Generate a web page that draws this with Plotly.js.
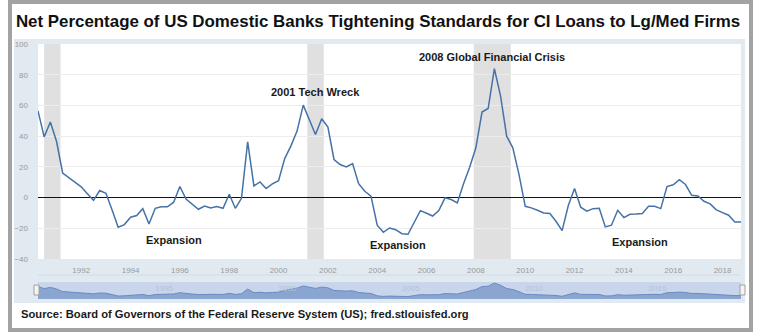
<!DOCTYPE html>
<html>
<head>
<meta charset="utf-8">
<script src="https://cdn.plot.ly/plotly-3.0.1.min.js"></script>
<style>html,body{margin:0;padding:0;background:#fff;}#chart{width:759px;height:332px;}</style>
</head>
<body>
<div id="chart"></div>
<script>
// ---- data (quarterly survey dates) ----
const dates = [
 '1990-04-01','1990-07-01','1990-10-01',
 '1991-01-01','1991-04-01','1991-07-01','1991-10-01',
 '1992-01-01','1992-04-01','1992-07-01','1992-10-01',
 '1993-01-01','1993-04-01','1993-07-01','1993-10-01',
 '1994-01-01','1994-04-01','1994-07-01','1994-10-01',
 '1995-01-01','1995-04-01','1995-07-01','1995-10-01',
 '1996-01-01','1996-04-01','1996-07-01','1996-10-01',
 '1997-01-01','1997-04-01','1997-07-01','1997-10-01',
 '1998-01-01','1998-04-01','1998-07-01','1998-10-01',
 '1999-01-01','1999-04-01','1999-07-01','1999-10-01',
 '2000-01-01','2000-04-01','2000-07-01','2000-10-01',
 '2001-01-01','2001-04-01','2001-07-01','2001-10-01',
 '2002-01-01','2002-04-01','2002-07-01','2002-10-01',
 '2003-01-01','2003-04-01','2003-07-01','2003-10-01',
 '2004-01-01','2004-04-01','2004-07-01','2004-10-01',
 '2005-01-01','2005-04-01','2005-07-01','2005-10-01',
 '2006-01-01','2006-04-01','2006-07-01','2006-10-01',
 '2007-01-01','2007-04-01','2007-07-01','2007-10-01',
 '2008-01-01','2008-04-01','2008-07-01','2008-10-01',
 '2009-01-01','2009-04-01','2009-07-01','2009-10-01',
 '2010-01-01','2010-04-01','2010-07-01','2010-10-01',
 '2011-01-01','2011-04-01','2011-07-01','2011-10-01',
 '2012-01-01','2012-04-01','2012-07-01','2012-10-01',
 '2013-01-01','2013-04-01','2013-07-01','2013-10-01',
 '2014-01-01','2014-04-01','2014-07-01','2014-10-01',
 '2015-01-01','2015-04-01','2015-07-01','2015-10-01',
 '2016-01-01','2016-04-01','2016-07-01','2016-10-01',
 '2017-01-01','2017-04-01','2017-07-01','2017-10-01',
 '2018-01-01','2018-04-01','2018-07-01','2018-10-01'
];
// net percentage tightening (%)
const netTightening = [
 56.5, 39.5, 49.2,
 36.5, 16.0, 13.0, 10.0,
 7.0, 2.5, -1.8, 4.6,
 2.8, -8.0, -19.3, -17.6,
 -12.8, -11.7, -7.2, -17.2,
 -7.0, -6.0, -6.0, -3.0,
 7.2, -1.0, -4.0, -7.6,
 -5.5, -6.8, -5.8, -7.0,
 2.2, -7.0, -0.5, 36.3,
 7.6, 10.2, 5.9, 8.9,
 11.0, 25.4, 33.5, 43.3,
 60.2, 50.9, 41.1, 51.3,
 45.9, 24.8, 21.5, 20.0,
 22.2, 9.1, 4.1, 0.9,
 -18.0, -22.6, -19.8, -20.9,
 -23.5, -23.9, -15.9, -8.5,
 -10.2, -12.0, -8.5, -0.2,
 -1.3, -3.5, 8.9, 19.8,
 32.4, 55.7, 58.0, 83.9,
 66.1, 40.0, 32.4, 15.0,
 -5.7, -6.7, -8.3, -10.0,
 -10.4, -15.4, -21.5, -5.2,
 5.9, -6.3, -8.9, -7.2,
 -7.0, -19.1, -18.0, -8.3,
 -13.0, -10.9, -10.7, -10.4,
 -5.7, -5.7, -7.2, 7.2,
 8.3, 11.7, 8.5, 1.5,
 1.1, -2.4, -4.1, -8.0,
 -9.8, -11.5, -15.9, -15.9
];
const recessionStarts = ['1990-07-01','2001-03-01','2007-12-01'];
const recessionEnds   = ['1991-03-01','2001-11-01','2009-06-01'];
const xTickVals  = ['1992-01-01','1994-01-01','1996-01-01','1998-01-01','2000-01-01','2002-01-01','2004-01-01','2006-01-01','2008-01-01','2010-01-01','2012-01-01','2014-01-01','2016-01-01','2018-01-01'];
const xTickText  = ['1992','1994','1996','1998','2000','2002','2004','2006','2008','2010','2012','2014','2016','2018'];
const navTickVals = ['1995-01-01','2000-01-01','2005-01-01','2010-01-01','2015-01-01'];
const navTickText = ['1995','2000','2005','2010','2015'];
const yTickVals = [-40,-20,0,20,40,60,80,100];
const labelTexts = ['Expansion','2001 Tech Wreck','Expansion','2008 Global Financial Crisis','Expansion'];
const labelDates = ['1995-10-10','2001-06-28','2004-11-10','2008-08-25','2014-08-20'];
const labelValues = [-27.6, 68.9, -30.9, 91.7, -29.1];
const titleText = 'Net Percentage of US Domestic Banks Tightening Standards for CI Loans to Lg/Med Firms';
const sourceText = 'Source: Board of Governors of the Federal Reserve System (US); fred.stlouisfed.org';

// ---- layout geometry helpers (pixels -> paper) ----
const W = 759, H = 332;
const M = {l: 38, r: 18, t: 44, b: 33};
const PW = W - M.l - M.r, PH = H - M.t - M.b;
const X = px => (px - M.l) / PW;
const Y = py => (H - M.b - py) / PH;
const FONT = 'Liberation Sans, Arial, Helvetica, sans-serif';
const NAV_MIN = -43, NAV_MAX = 92;
const xRange = [dates[0], dates[dates.length - 1]];

const traces = [
  {x: dates, y: netTightening, type: 'scatter', mode: 'lines',
   line: {color: '#4572a7', width: 1.5}, hoverinfo: 'none', xaxis: 'x', yaxis: 'y'},
  {x: dates, y: dates.map(() => NAV_MIN), type: 'scatter', mode: 'lines',
   line: {width: 0, color: 'rgba(0,0,0,0)'}, hoverinfo: 'none', xaxis: 'x2', yaxis: 'y2'},
  {x: dates, y: netTightening, type: 'scatter', mode: 'lines', fill: 'tonexty',
   fillcolor: '#8ba5d1', line: {color: '#6a8bc3', width: 1}, hoverinfo: 'none', xaxis: 'x2', yaxis: 'y2'}
];

const shapes = [
  // outer frame
  {type: 'rect', xref: 'paper', yref: 'paper', x0: X(10), x1: X(751), y0: Y(330), y1: Y(2),
   line: {color: '#a3a3a3', width: 4}, fillcolor: 'rgba(0,0,0,0)', layer: 'below'},
  // chart background
  {type: 'rect', xref: 'paper', yref: 'paper', x0: X(14), x1: X(745), y0: Y(303), y1: Y(39),
   line: {width: 0}, fillcolor: '#e1e9f1', layer: 'below'},
  // plot area
  {type: 'rect', xref: 'paper', yref: 'paper', x0: 0, x1: 1, y0: Y(259), y1: 1,
   line: {width: 0}, fillcolor: '#ffffff', layer: 'below'},
  // separator
  {type: 'line', xref: 'paper', yref: 'paper', x0: 0, x1: 1, y0: Y(275), y1: Y(275),
   line: {color: '#d3dbe7', width: 1}, layer: 'below'},
  // navigator band
  {type: 'rect', xref: 'paper', yref: 'paper', x0: 0, x1: 1, y0: 0, y1: Y(282),
   line: {width: 0}, fillcolor: '#c8d5ea', layer: 'below'},
  // handles
  {type: 'rect', xref: 'paper', yref: 'paper', x0: X(34), x1: X(39), y0: Y(295), y1: Y(285),
   line: {color: '#a0a0a0', width: 1}, fillcolor: '#f4f4f4', layer: 'above'},
  {type: 'rect', xref: 'paper', yref: 'paper', x0: X(740), x1: X(745), y0: Y(295), y1: Y(285),
   line: {color: '#a0a0a0', width: 1}, fillcolor: '#f4f4f4', layer: 'above'}
];
recessionStarts.forEach((s, i) => {
  shapes.push({type: 'rect', xref: 'x', yref: 'y', x0: s, x1: recessionEnds[i], y0: -40, y1: 100,
    line: {width: 0}, fillcolor: '#e0e0e0', layer: 'below'});
});

const annotations = labelTexts.map((t, i) => ({
  text: '<b>' + t + '</b>', x: labelDates[i], y: labelValues[i], xref: 'x', yref: 'y',
  showarrow: false, xanchor: 'center', yanchor: 'middle',
  font: {family: FONT, size: 11, color: '#1a1a1a'}
}));
annotations.push({
  text: '<b>' + sourceText + '</b>', xref: 'paper', yref: 'paper', x: X(19), y: Y(314),
  xanchor: 'left', yanchor: 'middle', showarrow: false,
  font: {family: FONT, size: 11.2, color: '#1a1a1a'}
});

const layout = {
  width: W, height: H,
  margin: M,
  paper_bgcolor: '#ffffff',
  plot_bgcolor: 'rgba(0,0,0,0)',
  showlegend: false,
  title: {text: '<b>' + titleText + '</b>', xref: 'container', yref: 'container',
          x: 378 / W, y: 1 - 21 / H, xanchor: 'center', yanchor: 'middle',
          font: {family: FONT, size: 16.9, color: '#111111'}},
  xaxis: {type: 'date', range: xRange, anchor: 'y', tickvals: xTickVals, ticktext: xTickText,
          showgrid: false, zeroline: false, showline: false, ticks: '', ticklabelstandoff: 5,
          tickfont: {family: FONT, size: 8, color: '#9a9a9a'}},
  yaxis: {range: [-40, 100], domain: [Y(259), 1], anchor: 'x', tickvals: yTickVals,
          showgrid: true, gridcolor: '#ececec', gridwidth: 1,
          zeroline: true, zerolinecolor: '#111111', zerolinewidth: 1.6,
          showline: false, ticks: '', ticklabelstandoff: 9,
          tickfont: {family: FONT, size: 8, color: '#9a9a9a'}},
  xaxis2: {type: 'date', range: xRange, anchor: 'y2', tickvals: navTickVals, ticktext: navTickText,
           showgrid: false, zeroline: false, showline: false, ticks: '',
           ticklabelposition: 'inside right',
           tickfont: {family: FONT, size: 8, color: '#b3c3dc'}},
  yaxis2: {range: [NAV_MIN, NAV_MAX], domain: [0, Y(282)], anchor: 'x2',
           showgrid: false, zeroline: false, showticklabels: false, showline: false, ticks: ''},
  shapes: shapes,
  annotations: annotations
};

Plotly.newPlot('chart', traces, layout, {displayModeBar: false, staticPlot: true});
</script>
</body>
</html>
